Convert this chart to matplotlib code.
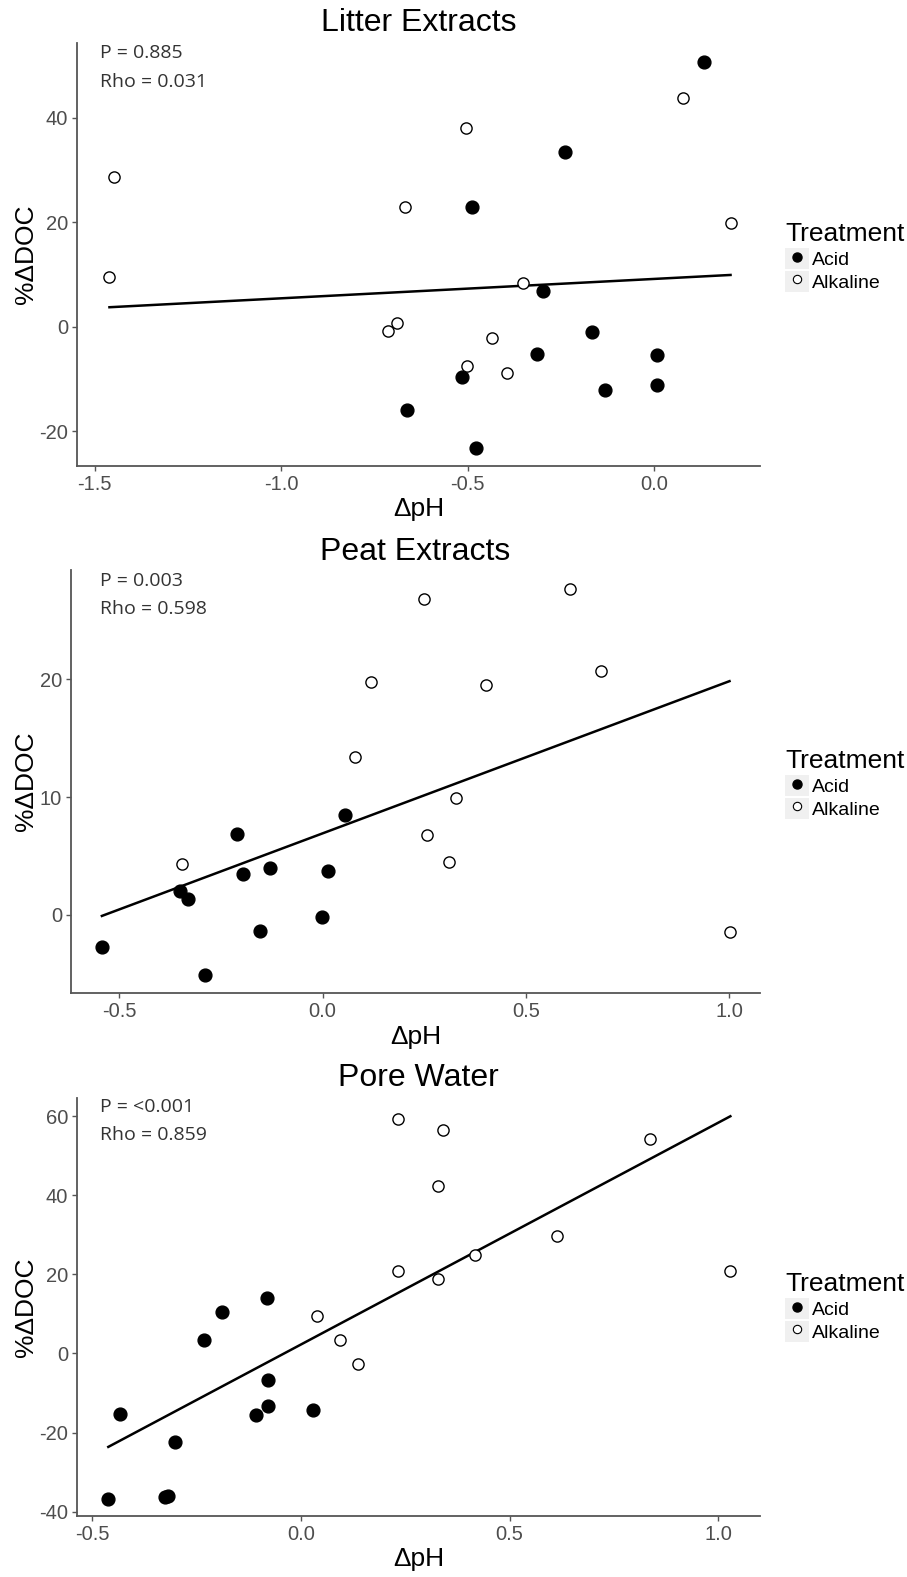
import matplotlib.pyplot as plt
import numpy as np
from matplotlib.patches import Rectangle
from matplotlib.lines import Line2D
from matplotlib.legend_handler import HandlerTuple

# ---- data ----
titles = ['Litter Extracts', 'Peat Extracts', 'Pore Water']
p_labels = ['P = 0.885', 'P = 0.003', 'P = <0.001']
rho_labels = ['Rho = 0.031', 'Rho = 0.598', 'Rho = 0.859']

litter_acid_x = [0.135, -0.238, -0.487, -0.299, -0.166, -0.313, 0.009, -0.516, 0.008, -0.132, -0.662, -0.477]
litter_acid_y = [50.7, 33.4, 22.9, 6.8, -1.0, -5.2, -5.4, -9.6, -11.1, -12.1, -15.8, -23.1]
litter_alk_x = [0.078, -0.505, -1.448, -0.669, 0.205, -1.460, -0.351, -0.689, -0.712, -0.434, -0.501, -0.395]
litter_alk_y = [43.8, 38.0, 28.6, 22.9, 19.8, 9.5, 8.4, 0.8, -0.8, -2.1, -7.5, -8.8]

peat_acid_x = [-0.543, -0.290, -0.350, -0.330, -0.210, -0.197, -0.154, -0.129, -0.001, 0.013, 0.056]
peat_acid_y = [-2.7, -5.1, 2.0, 1.3, 6.9, 3.5, -1.4, 4.0, -0.2, 3.7, 8.5]
peat_alk_x = [-0.346, 0.080, 0.120, 0.250, 0.256, 0.311, 0.329, 0.403, 0.609, 0.686, 1.001]
peat_alk_y = [4.3, 13.4, 19.8, 26.8, 6.8, 4.5, 9.9, 19.5, 27.7, 20.7, -1.5]

pore_acid_x = [-0.461, -0.325, -0.318, -0.433, -0.302, -0.231, -0.189, -0.082, -0.079, -0.079, -0.107, 0.029]
pore_acid_y = [-36.7, -36.3, -36.0, -15.4, -22.4, 3.5, 10.6, 13.9, -6.8, -13.4, -15.6, -14.4]
pore_alk_x = [0.234, 0.341, 0.329, 0.836, 0.613, 0.418, 0.233, 0.329, 1.029, 0.038, 0.093, 0.138]
pore_alk_y = [59.3, 56.5, 42.4, 54.3, 29.8, 25.0, 20.8, 18.9, 20.8, 9.4, 3.5, -2.6]

acid_x = [litter_acid_x, peat_acid_x, pore_acid_x]
acid_y = [litter_acid_y, peat_acid_y, pore_acid_y]
alk_x = [litter_alk_x, peat_alk_x, pore_alk_x]
alk_y = [litter_alk_y, peat_alk_y, pore_alk_y]

x_ticks = [[-1.5, -1.0, -0.5, 0.0], [-0.5, 0.0, 0.5, 1.0], [-0.5, 0.0, 0.5, 1.0]]
y_ticks = [[-20, 0, 20, 40], [0, 10, 20], [-40, -20, 0, 20, 40, 60]]
x_lims = [(-1.547, 0.284), (-0.619, 1.076), (-0.536, 1.10)]
y_lims = [(-26.6, 54.3), (-6.65, 29.3), (-41.1, 64.6)]

# ---- layout in pixels ----
W, H = 907, 1577
boxes = [(77, 760, 43, 466), (71, 760, 570, 993), (77, 760, 1098, 1516)]  # left, right, top, bottom
title_y = [23, 552, 1078]
p_y = [53, 581, 1107]
rho_y = [82, 609, 1135]
leg_y = [257, 784, 1307]
xlab_y = [509, 1037, 1559]

plt.rcParams['font.family'] = ['Liberation Sans', 'DejaVu Sans']
plt.rcParams['axes.unicode_minus'] = False
fig = plt.figure(figsize=(W / 100, H / 100), dpi=100)

for i in range(3):
    l, r, t, b = boxes[i]
    ax = fig.add_axes([l / W, 1 - b / H, (r - l) / W, (b - t) / H])

    # regression on all points
    xs = np.array(acid_x[i] + alk_x[i])
    ys = np.array(acid_y[i] + alk_y[i])
    slope, icpt = np.polyfit(xs, ys, 1)
    xl = np.array([xs.min(), xs.max()])
    ax.plot(xl, icpt + slope * xl, color='black', lw=1.8, zorder=2)

    ax.scatter(acid_x[i], acid_y[i], s=85, color='black', zorder=3)
    ax.scatter(alk_x[i], alk_y[i], s=65, facecolor='white', edgecolor='black', lw=1.0, zorder=3)

    ax.set_xlim(x_lims[i])
    ax.set_ylim(y_lims[i])
    ax.set_xticks(x_ticks[i])
    ax.set_xticklabels(['%.1f' % v for v in x_ticks[i]])
    ax.set_yticks(y_ticks[i])
    for s in ['top', 'right']:
        ax.spines[s].set_visible(False)
    for s in ['left', 'bottom']:
        ax.spines[s].set_color('#555555')
        ax.spines[s].set_linewidth(1.3)
    ax.tick_params(colors='#555555', labelcolor='#4d4d4d', length=3.5, width=1, labelsize=14.5, pad=3)

    ax.set_ylabel('%ΔDOC', fontsize=19, labelpad=1)
    fig.text((l + r) / 2 / W, 1 - xlab_y[i] / H, 'ΔpH', fontsize=19, ha='center', va='center')
    fig.text((l + r) / 2 / W, 1 - title_y[i] / H, titles[i], fontsize=23, ha='center', va='center')
    fig.text(100 / W, 1 - p_y[i] / H, p_labels[i], fontsize=14, family='Open Sans', color='#333333', va='center')
    fig.text(100 / W, 1 - rho_y[i] / H, rho_labels[i], fontsize=14, family='Open Sans', color='#333333', va='center')

    bg = Rectangle((0, 0), 1, 1, facecolor='#f0f0f0', edgecolor='none')
    h_acid = (bg, Line2D([], [], ls='', marker='o', ms=6.5, color='black'))
    bg2 = Rectangle((0, 0), 1, 1, facecolor='#f0f0f0', edgecolor='none')
    h_alk = (bg2, Line2D([], [], ls='', marker='o', ms=6, mfc='white', mec='black', mew=0.8))
    leg = fig.legend([h_acid, h_alk], ['Acid', 'Alkaline'], title='Treatment',
                     handler_map={tuple: HandlerTuple(ndivide=1)},
                     loc='center left', bbox_to_anchor=(785 / W, 1 - leg_y[i] / H),
                     frameon=False, fontsize=14, title_fontsize=19,
                     handlelength=1.25, handleheight=1.25, handletextpad=0.15,
                     labelspacing=0.1, borderpad=0, borderaxespad=0)
    leg._legend_box.align = 'left'

fig.savefig('out.png', dpi=100)
